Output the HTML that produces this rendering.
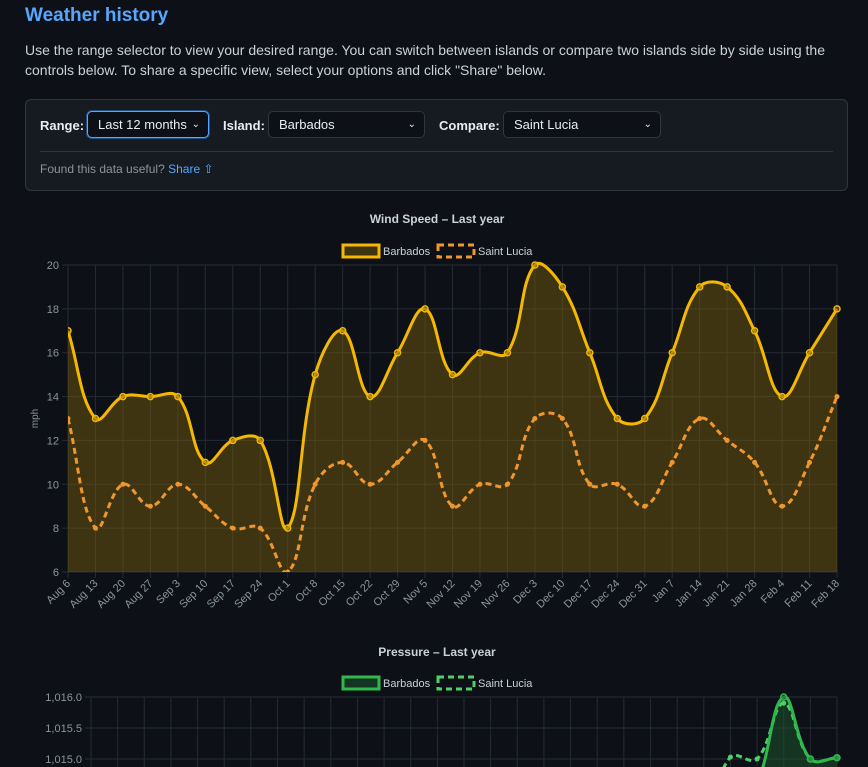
<!DOCTYPE html>
<html><head><meta charset="utf-8">
<style>
html,body{margin:0;background:#0d1117;width:868px;height:767px;overflow:hidden;font-family:"Liberation Sans",sans-serif;color:#c9d1d9}
h1{position:absolute;left:25px;top:5px;margin:0;font-size:19px;color:#58a6ff;font-weight:bold}
p.intro{position:absolute;left:25px;top:40px;margin:0;width:830px;font-size:14px;line-height:20px;color:#c9d1d9}
.panel{position:absolute;left:25px;top:99px;width:821px;height:90px;border:1px solid #30363d;border-radius:6px;background:#161b22}
.lbl{position:absolute;top:18px;font-size:13px;font-weight:bold;color:#e6edf3}
.sel{position:absolute;top:11px;border:1px solid #30363d;border-radius:5px;background:#0d1117;font-size:13px;line-height:25px;padding-left:10px;box-sizing:border-box;height:27px;color:#e6edf3}
.sel span.car{position:absolute;right:8px;top:0;font-size:10px}
.divider{position:absolute;left:14px;right:14px;top:51px;border-top:1px solid #30363d}
.foot{position:absolute;left:14px;top:62px;font-size:12px;color:#8b949e}
.foot a{color:#58a6ff;text-decoration:none}
svg{position:absolute;left:0;top:0}
</style></head><body>
<h1>Weather history</h1>
<p class="intro">Use the range selector to view your desired range. You can switch between islands or compare two islands side by side using the controls below. To share a specific view, select your options and click "Share" below.</p>
<div class="panel">
 <div class="lbl" style="left:14px">Range:</div>
 <div class="sel" style="left:61px;width:122px;border-color:#58a6ff;box-shadow:0 0 0 1px #1f4f8a">Last 12 months<span class="car">⌄</span></div>
 <div class="lbl" style="left:197px">Island:</div>
 <div class="sel" style="left:242px;width:157px">Barbados<span class="car">⌄</span></div>
 <div class="lbl" style="left:413px">Compare:</div>
 <div class="sel" style="left:477px;width:158px">Saint Lucia<span class="car">⌄</span></div>
 <div class="divider"></div>
 <div class="foot">Found this data useful? <a>Share ⇧</a></div>
</div>
<svg id="charts" width="868" height="767"></svg>
<script>
const dates=["Aug 6","Aug 13","Aug 20","Aug 27","Sep 3","Sep 10","Sep 17","Sep 24","Oct 1","Oct 8","Oct 15","Oct 22","Oct 29","Nov 5","Nov 12","Nov 19","Nov 26","Dec 3","Dec 10","Dec 17","Dec 24","Dec 31","Jan 7","Jan 14","Jan 21","Jan 28","Feb 4","Feb 11","Feb 18"];
const windBarbados=[17,13,14,14,14,11,12,12,8,15,17,14,16,18,15,16,16,20,19,16,13,13,16,19,19,17,14,16,18];
const windStLucia=[13,8,10,9,10,9,8,8,6,10,11,10,11,12,9,10,10,13,13,10,10,9,11,13,12,11,9,11,14];
const windTicks=[6,8,10,12,14,16,18,20];
const presBarbados=[1014,1014,1014,1014,1014,1014,1014,1014,1014,1014,1014,1014,1014,1014,1014,1014,1014,1014,1014,1014,1014,1014,1014,1014,1014,1014.6,1016,1015,1015.02];
const presStLucia=[1014,1014,1014,1014,1014,1014,1014,1014,1014,1014,1014,1014,1014,1014,1014,1014,1014,1014,1014,1014,1014,1014,1014,1014,1015.03,1015,1015.9,1015,1015.02];
const presTicks=[1015.0,1015.5,1016.0];

const svg=document.getElementById('charts');
const NS='http://www.w3.org/2000/svg';
function mk(tag,attrs,parent){const e=document.createElementNS(NS,tag);for(const k in attrs)e.setAttribute(k,attrs[k]);(parent||svg).appendChild(e);return e;}
function spline(pts){
  const t=0.4;let d=`M${pts[0][0]},${pts[0][1]}`;
  const cps=pts.map((p,i)=>{const pr=pts[i-1]||p,nx=pts[i+1]||p;
    const d01=Math.hypot(p[0]-pr[0],p[1]-pr[1]),d12=Math.hypot(nx[0]-p[0],nx[1]-p[1]);
    let s01=d01/(d01+d12),s12=d12/(d01+d12);if(isNaN(s01))s01=0;if(isNaN(s12))s12=0;
    const fa=t*s01,fb=t*s12;
    return {a:[p[0]-fa*(nx[0]-pr[0]),p[1]-fa*(nx[1]-pr[1])],b:[p[0]+fb*(nx[0]-pr[0]),p[1]+fb*(nx[1]-pr[1])]};});
  for(let i=1;i<pts.length;i++){d+=` C${cps[i-1].b[0]},${cps[i-1].b[1]} ${cps[i].a[0]},${cps[i].a[1]} ${pts[i][0]},${pts[i][1]}`;}
  return d;
}
function chart(o){
  const g=mk('g',{});
  
  
  const X=i=>o.x0+(o.x1-o.x0)*i/(dates.length-1);
  const Y=v=>o.y1-(v-o.vmin)/(o.vmax-o.vmin)*(o.y1-o.y0);
  const clip=mk('clipPath',{id:o.name+'-clip'},g);mk('rect',{x:o.x0,y:o.y0-4,width:o.x1-o.x0+6,height:o.y1-o.y0+4},clip);
  const title=mk('text',{x:437,y:o.titleY,'text-anchor':'middle','font-size':12,'font-weight':'bold',fill:'#c9d1d9'},g);title.textContent=o.title;
  
  
  const lg=mk('g',{},g);
  
  
  mk('rect',{x:343,y:o.legY-6,width:36,height:12,fill:o.fill,stroke:o.c1,'stroke-width':3},lg);
  const l1=mk('text',{x:383,y:o.legY+4,'font-size':11,fill:'#c9d1d9'},lg);l1.textContent='Barbados';
  mk('rect',{x:438,y:o.legY-6,width:36,height:12,fill:'none',stroke:o.c2,'stroke-width':3,'stroke-dasharray':'6 4'},lg);
  const l2=mk('text',{x:478,y:o.legY+4,'font-size':11,fill:'#c9d1d9'},lg);l2.textContent='Saint Lucia';
  dates.forEach((d,i)=>{mk('line',{x1:X(i),x2:X(i),y1:o.y0,y2:o.y1+6,stroke:'#262b33','stroke-width':1},g);
    if(o.xlabels){const tx=mk('text',{x:X(i)+3,y:o.y1+12,'text-anchor':'end','font-size':11,fill:'#8b949e',transform:`rotate(-45 ${X(i)+3} ${o.y1+12})`},g);tx.textContent=d;
      
      }});
  o.ticks.forEach(v=>{mk('line',{x1:o.x0-6,x2:o.x1,y1:Y(v),y2:Y(v),stroke:'#262b33','stroke-width':1},g);
    const tx=mk('text',{x:o.x0-9,y:Y(v)+4,'text-anchor':'end','font-size':11,fill:'#8b949e'},g);tx.textContent=o.fmt(v);
    
    });
  if(o.ylabel){const t=mk('text',{x:38,y:(o.y0+o.y1)/2,'text-anchor':'middle','font-size':10,fill:'#8b949e',transform:`rotate(-90 38 ${(o.y0+o.y1)/2})`},g);t.textContent=o.ylabel;
    
    }
  const sg=mk('g',{'clip-path':`url(#${o.name}-clip)`},g);
  const p1=o.s1.map((v,i)=>[X(i),Y(v)]),p2=o.s2.map((v,i)=>[X(i),Y(v)]);
  const area=mk('path',{d:spline(p1)+` L${X(dates.length-1)},${o.y1} L${X(0)},${o.y1} Z`,fill:o.fill},sg);
  
  
  const ln2=mk('path',{d:spline(p2),fill:'none',stroke:o.c2,'stroke-width':3,'stroke-dasharray':'6 4'},sg);
  
  
  p2.forEach(p=>{const c=mk('circle',{cx:p[0],cy:p[1],r:2.5,fill:o.c2},sg);
    
    });
  const ln1=mk('path',{d:spline(p1),fill:'none',stroke:o.c1,'stroke-width':3},sg);
  
  
  p1.forEach(p=>{const c=mk('circle',{cx:p[0],cy:p[1],r:3,fill:o.fill,stroke:o.c1,'stroke-width':1.5},sg);
    
    });
}
chart({name:'wind-chart',title:'Wind Speed – Last year',titleY:223,legY:251,x0:68,x1:837,y0:265,y1:572,vmin:6,vmax:20,ticks:windTicks,fmt:v=>String(v),
  s1:windBarbados,s2:windStLucia,c1:'#f5b800',c2:'#f0962e',fill:'rgba(122,96,12,0.45)',xlabels:true,ylabel:'mph'});
chart({name:'pressure-chart',title:'Pressure – Last year',titleY:656,legY:683,x0:91,x1:837,y0:697,y1:821,vmin:1014,vmax:1016,ticks:presTicks,fmt:v=>v.toLocaleString('en-US',{minimumFractionDigits:1}),
  s1:presBarbados,s2:presStLucia,c1:'#2fb84c',c2:'#4fcf6a',fill:'rgba(30,90,45,0.5)',xlabels:false});
</script>
</body></html>
